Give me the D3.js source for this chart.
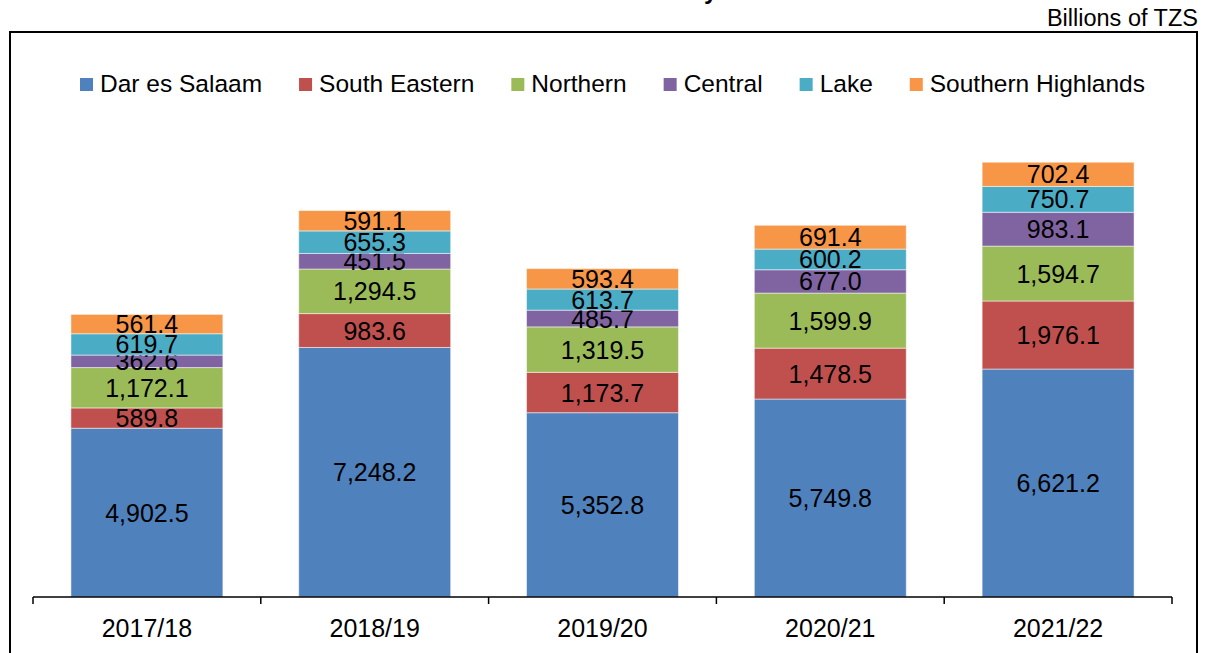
<!DOCTYPE html>
<html lang="en">
<head>
<meta charset="UTF-8">
<title>Revenue by zone</title>
<script src="https://d3js.org/d3.v7.min.js"></script>
<style>
    body { margin: 0; background: #fff; }
    svg text { font-family: "Liberation Sans", Arial, sans-serif; fill: #000; }
</style>
</head>
<body>
<svg width="1206" height="653"></svg>
<script>
    // data (billions of TZS)
    const years = ["2017/18", "2018/19", "2019/20", "2020/21", "2021/22"];
    const zones = ["Dar es Salaam", "South Eastern", "Northern", "Central", "Lake", "Southern Highlands"];
    const colors = ["#4F81BD", "#C0504D", "#9BBB59", "#8064A2", "#4BACC6", "#F79646"];

    const darEsSalaam = [4902.5, 7248.2, 5352.8, 5749.8, 6621.2];
    const southEastern = [589.8, 983.6, 1173.7, 1478.5, 1976.1];
    const northern = [1172.1, 1294.5, 1319.5, 1599.9, 1594.7];
    const central = [362.6, 451.5, 485.7, 677.0, 983.1];
    const lake = [619.7, 655.3, 613.7, 600.2, 750.7];
    const southernHighlands = [561.4, 591.1, 593.4, 691.4, 702.4];

    const seriesValues = [darEsSalaam, southEastern, northern, central, lake, southernHighlands];

    // build a table for d3.stack
    const rows = years.map((y, i) => {
        const r = { year: y };
        zones.forEach((z, j) => r[z] = seriesValues[j][i]);
        return r;
    });

    const svg = d3.select("svg");

    // outer frame (bottom runs off the picture)
    svg.append("rect")
        .attr("x", 10).attr("y", 32)
        .attr("width", 1187).attr("height", 640)
        .attr("fill", "none").attr("stroke", "#000").attr("stroke-width", 2);

    // title, cut off above the picture
    svg.append("text")
        .attr("x", 704).attr("y", -1)
        .style("font-size", "24px").style("font-weight", "bold")
        .text("y");

    svg.append("text")
        .attr("x", 1198).attr("y", 26)
        .attr("text-anchor", "end")
        .style("font-size", "23.5px")
        .text("Billions of TZS");

    const x = d3.scaleBand()
        .domain(years)
        .range([33, 1172])
        .paddingInner(0.333)
        .paddingOuter(0.1665);

    const y = d3.scaleLinear()
        .domain([0, 14000])
        .range([597, 115]);

    const stacked = d3.stack().keys(zones)(rows);
    const fmt = d3.format(",.1f");

    const groups = svg.append("g").selectAll("g")
        .data(stacked)
        .join("g")
        .attr("fill", (d, i) => colors[i]);

    groups.selectAll("rect")
        .data(d => d)
        .join("rect")
        .attr("x", d => x(d.data.year))
        .attr("width", x.bandwidth())
        .attr("y", d => y(d[1]))
        .attr("height", d => y(d[0]) - y(d[1]))
        .attr("stroke", "#fff")
        .attr("stroke-opacity", 0.5)
        .attr("stroke-width", 1);

    groups.selectAll("text")
        .data(d => d.map(p => ({ p: p, v: p[1] - p[0] })))
        .join("text")
        .attr("x", d => x(d.p.data.year) + x.bandwidth() / 2)
        .attr("y", d => (y(d.p[0]) + y(d.p[1])) / 2)
        .attr("dy", "0.36em")
        .attr("text-anchor", "middle")
        .style("font-size", "25px")
        .text(d => fmt(d.v));

    // x axis: ticks between categories
    const axis = svg.append("g")
        .attr("transform", "translate(0,597)");
    axis.append("line")
        .attr("x1", x.range()[0]).attr("x2", x.range()[1])
        .attr("stroke", "#000").attr("stroke-width", 1.5);
    const tickPos = years.map(yr => x(yr) - x.step() * x.paddingInner() / 2);
    tickPos.push(x.range()[1]);
    axis.selectAll(".tk")
        .data(tickPos)
        .join("line")
        .attr("class", "tk")
        .attr("x1", d => d).attr("x2", d => d)
        .attr("y1", 0).attr("y2", 7)
        .attr("stroke", "#000").attr("stroke-width", 1.5);
    axis.selectAll(".lbl")
        .data(years)
        .join("text")
        .attr("class", "lbl")
        .attr("x", d => x(d) + x.bandwidth() / 2)
        .attr("y", 40)
        .attr("text-anchor", "middle")
        .style("font-size", "25px")
        .text(d => d);

    // legend
    const legend = svg.append("g").attr("transform", "translate(80,78)");
    let lx = 0;
    zones.forEach((z, i) => {
        const g = legend.append("g").attr("transform", `translate(${lx},0)`);
        g.append("rect")
            .attr("width", 13).attr("height", 13)
            .attr("fill", colors[i]);
        const t = g.append("text")
            .attr("x", 20).attr("y", 14)
            .style("font-size", "24.5px")
            .text(z);
        lx += 20 + t.node().getComputedTextLength() + 37;
    });
</script>
</body>
</html>
